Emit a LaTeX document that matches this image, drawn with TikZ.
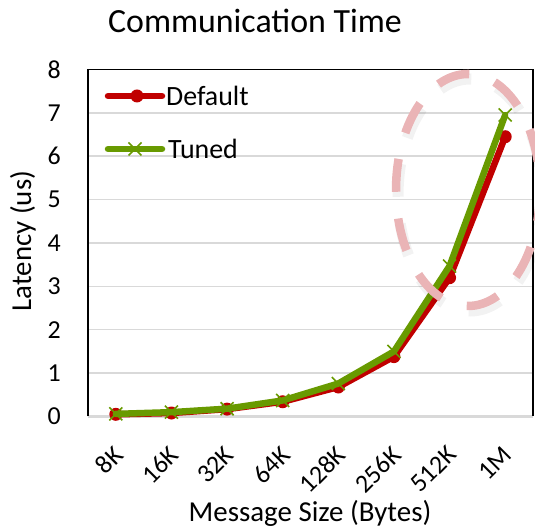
\documentclass[tikz,border=0pt]{standalone}
\usepackage{fontspec}
\setmainfont{Carlito}
\definecolor{defred}{RGB}{192,0,0}
\definecolor{tungreen}{RGB}{104,154,0}
\definecolor{gridgray}{RGB}{217,217,217}
\definecolor{ringpink}{RGB}{234,180,182}
\tikzset{
  gridline/.style={gridgray, line width=1.5bp},
  baseaxis/.style={gridgray, line width=2.2bp},
  frameline/.style={black, line width=1.6bp},
  defline/.style={defred, line width=6.5bp, line join=round, line cap=round},
  tunline/.style={tungreen, line width=6.5bp, line join=round, line cap=round},
  defmark/.style={circle, fill=defred, inner sep=0pt, minimum size=13bp},
  tunmark/.style={tungreen, line width=1.6bp},
  ticklab/.style={font=\fontsize{26}{30}\selectfont, inner sep=0pt},
  axtitle/.style={font=\fontsize{29}{34}\selectfont, inner sep=0pt},
  legtext/.style={font=\fontsize{28}{32}\selectfont, inner sep=0pt, anchor=west},
  ring/.style={ringpink, line width=8.5bp, dash pattern=on 33bp off 26.87bp, dash phase=31.2bp},
}
\begin{document}
\begin{tikzpicture}[x=1bp,y=1bp]
\useasboundingbox (0,0) rectangle (535,527);
\clip (0,0) rectangle (535,527);

% chart title
\node[font=\fontsize{34}{40}\selectfont, inner sep=0pt, anchor=base] (title) at (255,494) {Communication Time};

% plot area: one x unit per category, one y unit per microsecond
\begin{scope}[shift={(88,110.5)}, x=55.625bp, y=43.375bp]
  \foreach \v in {1,...,7} \draw[gridline] (0,\v) -- (8,\v);
  \draw[baseaxis] (0,0) -- (8,0);
  \draw[frameline] (0,0) -- (0,8) -- (8,8) -- (8,0);

  % y tick labels
  \foreach \v in {0,...,8}
    \node[ticklab, anchor=east, xshift=-27bp] (ytick\v) at (0,\v) {\v};

  % x tick labels
  \foreach \lab [count=\i from 0] in {8K,16K,32K,64K,128K,256K,512K,1M}
    \node[ticklab, rotate=45, anchor=north east, xshift=-5bp] (xtick\i) at (\i+0.5,-0.56) {\lab};

  % data points
  \foreach \v [count=\i from 0] in {0.05,0.08,0.17,0.34,0.68,1.38,3.2,6.45}
    \coordinate (d\i) at (\i+0.5,\v);
  \foreach \v [count=\i from 0] in {0.06,0.10,0.18,0.37,0.76,1.50,3.47,6.95}
    \coordinate (t\i) at (\i+0.5,\v);

  % Default series
  \draw[defline] (d0) -- (d1) -- (d2) -- (d3) -- (d4) -- (d5) -- (d6) -- (d7);
  \foreach \i in {0,...,7} \node[defmark] (dm\i) at (d\i) {};

  % Tuned series
  \draw[tunline] (t0) -- (t1) -- (t2) -- (t3) -- (t4) -- (t5) -- (t6) -- (t7);
  \foreach \i in {0,...,7}
    \draw[tunmark] ([shift={(-6.5bp,-6.5bp)}]t\i) -- ([shift={(6.5bp,6.5bp)}]t\i)
                   ([shift={(-6.5bp,6.5bp)}]t\i) -- ([shift={(6.5bp,-6.5bp)}]t\i);
\end{scope}

% highlight ring round the largest messages, with a faint drop shadow
\draw[ring, black, opacity=0.05, line width=11bp] (470,332) ellipse [x radius=72, y radius=116];
\draw[ring] (468,337) ellipse [x radius=72, y radius=116];

% legend
\coordinate (la) at (108,431);
\coordinate (lb) at (162,431);
\draw[defline] (la) -- (lb);
\node[defmark] (lgd) at (137,431) {};
\node[legtext] (legdef) at (166,431) {Default};

\coordinate (lc) at (108,378);
\coordinate (ld) at (162,378);
\draw[tunline] (lc) -- (ld);
\coordinate (lgt) at (135,378);
\draw[tunmark] ([shift={(-6.5bp,-6.5bp)}]lgt) -- ([shift={(6.5bp,6.5bp)}]lgt)
               ([shift={(-6.5bp,6.5bp)}]lgt) -- ([shift={(6.5bp,-6.5bp)}]lgt);
\node[legtext] (legtun) at (168,378) {Tuned};

% axis titles
\node[axtitle, rotate=90] (ytitle) at (23,286) {Latency (us)};
\node[axtitle, anchor=base] (xtitle) at (310,5.5) {Message Size (Bytes)};
\end{tikzpicture}
\end{document}
